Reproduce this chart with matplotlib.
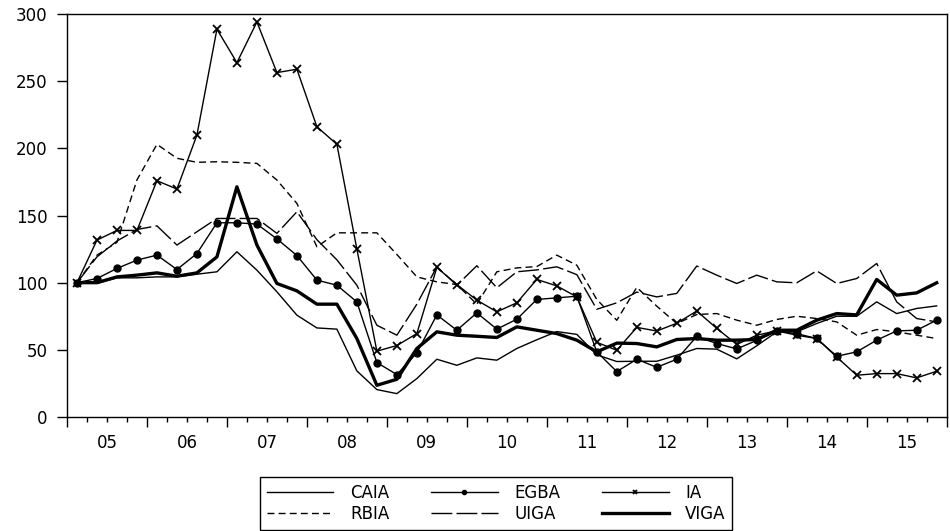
import numpy as np
import matplotlib
matplotlib.use('Agg')
import matplotlib.pyplot as plt
from matplotlib.ticker import FixedLocator, FixedFormatter, NullFormatter


# quarterly index values, 2005Q1 .. 2015Q4
YEARS = ['05', '06', '07', '08', '09', '10', '11', '12', '13', '14', '15']

CAIA = [100, 99.5, 103.6, 103.6, 104.3, 104.3, 106.3, 108.1, 123, 109.3, 93.2, 75.8,
        66.3, 65.4, 34.3, 20.4, 17.4, 28.6, 43, 38.5, 44, 42.3, 51, 57.5,
        63.6, 61.5, 46.3, 41.3, 41.5, 41.5, 46, 51, 50.5, 43.3, 53, 63.4,
        63.4, 69.6, 75, 75, 85.7, 77, 80.8, 82.7]
EGBA = [100, 103.1, 110.6, 116.8, 120.5, 109.8, 121.7, 144.6, 144.6, 143.6, 132.6, 120.2,
        101.9, 98.1, 85.7, 40.5, 31.6, 47.7, 76.0, 64.6, 77.5, 65.4, 72.8, 87.5,
        88.7, 89.9, 48.5, 33.8, 43, 37, 43, 60, 54.7, 50.7, 57, 64,
        62, 58.5, 45.2, 48.5, 57.2, 64.1, 64.6, 72.1]
IA = [100, 131.7, 138.9, 138.9, 175.9, 169.7, 209.9, 288.7, 263.8, 294.1, 256.4, 258.9,
      216.1, 203, 125, 49, 53.2, 62.1, 111.3, 98.6, 87, 78.3, 85, 102.4,
      97.6, 89.4, 55.6, 49.7, 66.7, 64, 69.8, 78.9, 66, 54, 60.9, 64.1,
      60.9, 58.4, 44.7, 31.1, 32.3, 32.3, 29.1, 34.1]
RBIA = [100, 120.5, 130, 176.5, 203, 192.6, 189.6, 190, 189.6, 188.8, 176.4, 159,
        126.7, 137.1, 137.1, 137.1, 121, 104.3, 100.6, 98.6, 84, 108.1, 111, 112,
        120.5, 113, 87.5, 72, 96.5, 82.5, 69.6, 76.3, 77, 72.1, 68.3, 72.6,
        75, 73.3, 70.8, 60.9, 65.1, 63.4, 60.9, 58.4]
UIGA = [100, 119.2, 131, 139.6, 142.3, 128, 137.9, 147.8, 147.8, 147.8, 136.7, 152.8,
        132, 117, 98.1, 68.3, 60.9, 84, 111.8, 98.1, 112.6, 96.2, 108.1, 109.5,
        111.8, 106, 80.2, 85, 93, 89.4, 92, 112.4, 105.6, 99.4, 105.6, 100.6,
        99.9, 108.8, 99.4, 103.1, 114.3, 85.7, 73.3, 70.8]
VIGA = [100, 100, 104.3, 105.6, 107.3, 104.8, 107.3, 119.2, 171.4, 128, 99.4, 93.9,
        84, 84, 58.4, 23.6, 28.1, 51, 63.4, 60.9, 60.1, 59.2, 67.1, 64.6,
        62.1, 57.2, 48.5, 55, 54.7, 52.2, 57.7, 58.4, 57.2, 57.2, 57.7, 64.6,
        64.6, 72.1, 77, 76, 102.4, 90.7, 92.4, 99.9]


def setup_axis(ax, n):
    ax.set_xlim(-0.5, n - 0.5)
    ax.set_ylim(0, 300)
    ax.set_yticks(np.arange(0, 301, 50))

    # year boundaries get long ticks, quarter boundaries short ones;
    # year labels hang on the mid-year quarter tick
    bounds = np.arange(-0.5, n, 1.0)
    major = [b for b in bounds if (b + 0.5) % 4 == 0]
    minor = [b for b in bounds if (b + 0.5) % 4 != 0]
    labels = []
    for b in minor:
        if (b - 1.5) % 4 == 0:
            labels.append(YEARS[int((b - 1.5) // 4)])
        else:
            labels.append('')
    ax.xaxis.set_major_locator(FixedLocator(major))
    ax.xaxis.set_major_formatter(NullFormatter())
    ax.xaxis.set_minor_locator(FixedLocator(minor))
    ax.xaxis.set_minor_formatter(FixedFormatter(labels))

    ax.tick_params(axis='x', which='major', length=7.2, width=1.0, direction='out')
    ax.tick_params(axis='x', which='minor', length=3.6, width=1.0, direction='out',
                   pad=9, labelsize=12)
    ax.tick_params(axis='y', length=7.2, width=1.0, direction='out', pad=7,
                   labelsize=12)
    for sp in ax.spines.values():
        sp.set_linewidth(1.0)
        sp.set_color('black')


def main():
    plt.rcParams['font.family'] = ['DejaVu Sans']
    fig = plt.figure(figsize=(9.5, 5.31), dpi=100)
    ax = fig.add_axes([0.0705, 0.2147, 0.926, 0.7589])

    x = np.arange(len(CAIA))
    h_caia, = ax.plot(x, CAIA, color='black', lw=1.0, label='CAIA')
    h_egba, = ax.plot(x, EGBA, color='black', lw=1.0, marker='o', ms=5,
                      label='EGBA')
    h_ia, = ax.plot(x, IA, color='black', lw=1.0, marker='x', ms=6, mew=1.3,
                    label='IA')
    h_rbia, = ax.plot(x, RBIA, color='black', lw=1.0, ls=(0, (5, 3)), label='RBIA')
    h_uiga, = ax.plot(x, UIGA, color='black', lw=1.0, ls=(0, (15, 3)), label='UIGA')
    h_viga, = ax.plot(x, VIGA, color='black', lw=2.4, label='VIGA')

    setup_axis(ax, len(CAIA))

    # legend is filled column by column, so interleave the two rows
    handles = [h_caia, h_rbia, h_egba, h_uiga, h_ia, h_viga]
    leg = fig.legend(handles=handles, labels=[h.get_label() for h in handles],
                     ncol=3, loc='upper left', bbox_to_anchor=(0.2737, 0.1017),
                     bbox_transform=fig.transFigure, frameon=True, fancybox=False,
                     edgecolor='black', fontsize=12, handlelength=4.0,
                     handletextpad=1.0, columnspacing=2.5, labelspacing=0.2,
                     borderpad=0.4, borderaxespad=0, markerscale=0.6)
    leg.get_frame().set_linewidth(1.0)
    leg.get_frame().set_alpha(1)

    fig.savefig('out.png', dpi=100)
    plt.close(fig)


if __name__ == '__main__':
    main()
